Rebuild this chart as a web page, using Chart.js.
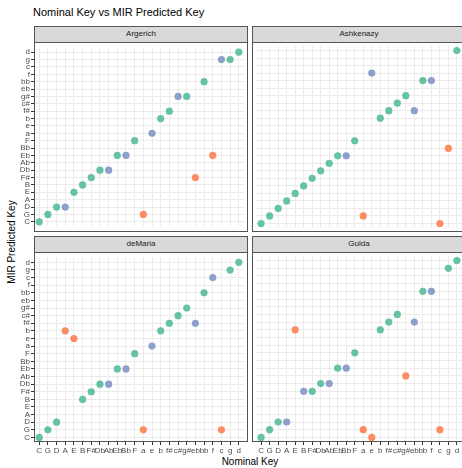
<!DOCTYPE html>
<html>
<head>
<meta charset="utf-8">
<script src="https://cdn.jsdelivr.net/npm/chart.js@4"></script>
<style>
  html, body { margin: 0; padding: 0; background: #fff; }
  #wrap { position: relative; width: 462px; height: 468px; overflow: hidden; font-family: "Liberation Sans", Arial, sans-serif; }
  canvas { position: absolute; }
  .frame { position: absolute; box-sizing: border-box; border: 1px solid #555; pointer-events: none; }
  .strip { position: absolute; box-sizing: border-box; border: 1px solid #555; background: #d9d9d9; color: #1a1a1a; font-size: 8px; text-align: center; line-height: 14px; }
  #title { position: absolute; left: 33px; top: 6px; font-size: 11px; color: #000; }
  #ytitle { position: absolute; left: -88px; top: 236px; width: 200px; text-align: center; font-size: 10px; line-height: 12px; transform: rotate(-90deg); }
  #xtitle { position: absolute; left: 150px; top: 456px; width: 200px; text-align: center; font-size: 10px; line-height: 12px; }
</style>
</head>
<body>
<div id="wrap">
  <div id="title">Nominal Key vs MIR Predicted Key</div>
  <div id="ytitle">MIR Predicted Key</div>
  <div id="xtitle">Nominal Key</div>
</div>
<script>
// key levels, used for both axes
const keys = ['C','G','D','A','E','B','F#','Db','Ab','Eb','Bb','F','a','e','b','f#','c#','g#','eb','bb','f','c','g','d'];

// predicted key per nominal key (same order as keys)
const argerichPred = ['C','G','D','D','E','B','F#','Db','Db','Eb','Eb','F','G','a','b','f#','g#','g#','F#','bb','Eb','g','g','d'];
const argerichType = ['ok','ok','ok','fifth','ok','ok','ok','ok','fifth','ok','fifth','ok','other','fifth','ok','ok','fifth','ok','other','ok','other','fifth','ok','ok'];

const ashkenazyPred = ['C','G','D','A','E','B','F#','Db','Ab','Eb','Eb','F','G','f','b','f#','c#','g#','f#','bb','bb','C','Bb','d'];
const ashkenazyType = ['ok','ok','ok','ok','ok','ok','ok','ok','ok','ok','fifth','ok','other','fifth','ok','ok','ok','ok','fifth','ok','fifth','other','other','ok'];

const demariaPred = ['C','G','D','b','e','B','F#','Db','Db','Eb','Eb','F','G','a','b','f#','c#','g#','f#','bb','c','G','g','d'];
const demariaType = ['ok','ok','ok','other','other','ok','ok','ok','fifth','ok','fifth','ok','other','fifth','ok','ok','ok','ok','fifth','ok','fifth','other','ok','ok'];

const guldaPred = ['C','G','D','D','b','F#','F#','Db','Db','Eb','Eb','F','G','C','b','f#','c#','Ab','f#','bb','bb','G','g','d'];
const guldaType = ['ok','ok','ok','fifth','other','fifth','ok','ok','fifth','ok','fifth','ok','other','other','ok','ok','ok','other','fifth','ok','fifth','other','ok','ok'];

const typeColors = { ok: '#66C2A5', other: '#FC8D62', fifth: '#8DA0CB' };

const wrap = document.getElementById('wrap');

function addDiv(cls, x, y, w, h, text) {
    const d = document.createElement('div');
    d.className = cls;
    d.style.left = x + 'px';
    d.style.top = y + 'px';
    d.style.width = w + 'px';
    d.style.height = h + 'px';
    if (text) d.textContent = text;
    wrap.appendChild(d);
}

function axis(showLabels, size, isX) {
    return {
        type: 'linear',
        min: -0.6,
        max: keys.length - 1 + 0.6,
        afterBuildTicks: (s) => { s.ticks = keys.map((k, i) => ({ value: i })); },
        afterFit: (s) => { if (isX) s.height = size; else s.width = size; },
        border: { display: false },
        grid: {
            color: '#ebebeb',
            lineWidth: 1,
            drawTicks: showLabels,
            tickLength: 3,
            tickColor: '#333'
        },
        ticks: {
            display: showLabels,
            autoSkip: false,
            maxRotation: 0,
            minRotation: 0,
            padding: 1,
            color: '#4d4d4d',
            font: { family: 'Liberation Sans', size: 8 },
            callback: (v) => keys[v]
        }
    };
}

function panel(name, pred, types, left, top, showY, showX) {
    const plotW = 214, plotH = 190;
    const yw = showY ? 34 : 0;
    const xh = showX ? 24 : 0;
    const cv = document.createElement('canvas');
    cv.width = plotW + yw;
    cv.height = plotH + xh;
    cv.style.left = (left - yw) + 'px';
    cv.style.top = top + 'px';
    wrap.appendChild(cv);

    addDiv('strip', left, top - 16, plotW, 17, name);
    addDiv('frame', left, top, plotW, plotH);

    new Chart(cv, {
        type: 'scatter',
        data: {
            datasets: [{
                data: pred.map((p, i) => ({ x: i, y: keys.indexOf(p) })),
                pointBackgroundColor: types.map(t => typeColors[t]),
                pointBorderWidth: 0,
                pointRadius: 3.6,
                clip: false
            }]
        },
        options: {
            responsive: false,
            animation: false,
            events: [],
            layout: { padding: 0 },
            plugins: { legend: { display: false }, tooltip: { enabled: false } },
            scales: {
                x: axis(showX, xh, true),
                y: axis(showY, yw, false)
            }
        }
    });
}

panel('Argerich', argerichPred, argerichType, 34, 42, true, false);
panel('Ashkenazy', ashkenazyPred, ashkenazyType, 252, 42, false, false);
panel('deMaria', demariaPred, demariaType, 34, 252, true, true);
panel('Gulda', guldaPred, guldaType, 252, 252, false, true);
</script>
</body>
</html>
